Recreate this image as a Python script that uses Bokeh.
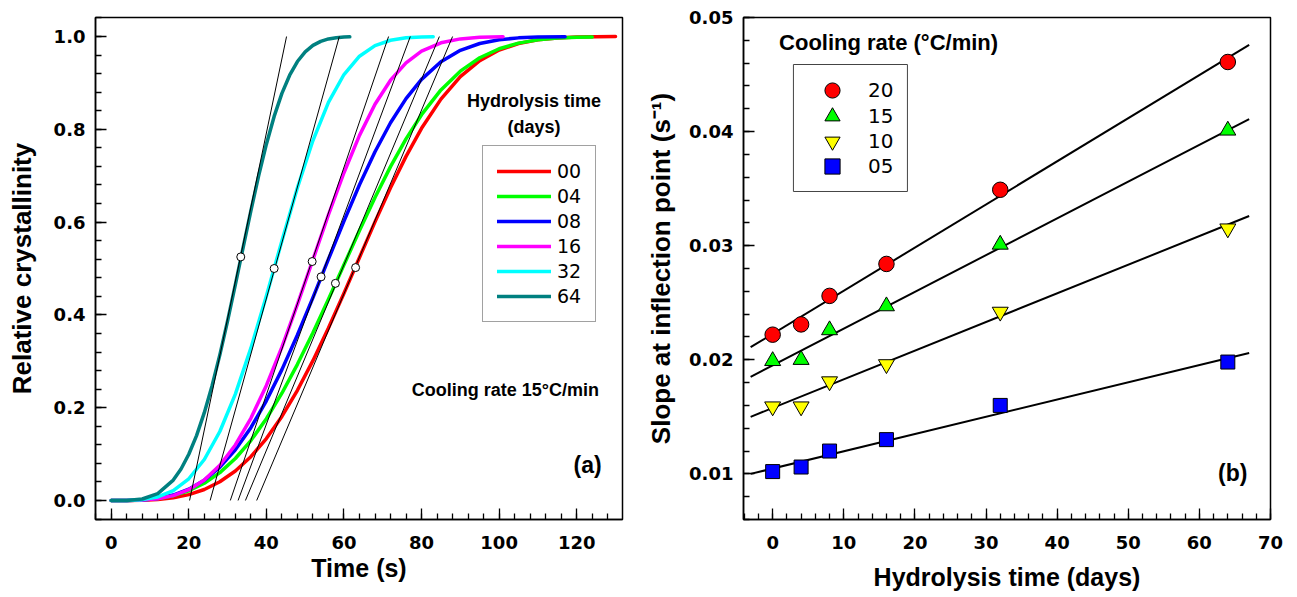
from bokeh.plotting import figure
from bokeh.models import Range1d, FixedTicker, Legend, LegendItem, Label, BoxAnnotation
from bokeh.layouts import row
from bokeh.embed import file_html
from bokeh.resources import INLINE

# ---------------- Panel (a): relative crystallinity vs time ----------------
series_a_labels = ["00", "04", "08", "16", "32", "64"]
series_a_colors = ["#ff0000", "#00ff00", "#0000ff", "#ff00ff", "#00ffff", "#008080"]

time_00 = [0, 4, 8, 12, 16, 20, 24, 28, 32, 36, 40, 44, 48, 52, 56, 60, 64, 68, 72, 76, 80,
           85, 90, 95, 100, 105, 110, 115, 120, 125, 130]
cryst_00 = [0.0, 0.0000, 0.0005, 0.0021, 0.0058, 0.0126, 0.0237, 0.0403, 0.0635, 0.0943, 0.1334,
            0.1812, 0.2375, 0.3014, 0.3718, 0.4467, 0.5238, 0.6004, 0.6739, 0.7417, 0.8021,
            0.8651, 0.9134, 0.9480, 0.9709, 0.9850, 0.9928, 0.9969, 0.9988, 0.9996, 0.9999]

time_04 = [0, 4, 8, 12, 16, 20, 24, 28, 32, 36, 40, 44, 48, 52, 56, 60, 64, 68, 72, 76, 80,
           85, 90, 95, 100, 105, 110, 115, 120, 124]
cryst_04 = [0.0, 0.0001, 0.0011, 0.0041, 0.0103, 0.0209, 0.0371, 0.0600, 0.0905, 0.1292, 0.1762,
            0.2312, 0.2934, 0.3615, 0.4338, 0.5079, 0.5819, 0.6531, 0.7195, 0.7793, 0.8315,
            0.8849, 0.9254, 0.9543, 0.9737, 0.9858, 0.9928, 0.9966, 0.9985, 0.9992]

time_08 = [0, 4, 8, 12, 16, 20, 24, 28, 32, 36, 40, 44, 48, 52, 56, 60, 64, 68, 72, 76, 80,
           85, 90, 95, 100, 105, 110, 117]
cryst_08 = [0.0, 0.0001, 0.0012, 0.0045, 0.0117, 0.0243, 0.0438, 0.0718, 0.1093, 0.1570, 0.2149,
            0.2820, 0.3568, 0.4372, 0.5201, 0.6022, 0.6804, 0.7517, 0.8142, 0.8662, 0.9076,
            0.9455, 0.9702, 0.9850, 0.9931, 0.9971, 0.9989, 0.9997]

time_16 = [0, 4, 8, 12, 16, 20, 24, 28, 32, 36, 40, 44, 48, 52, 56, 60, 64, 68, 72, 76, 80,
           85, 90, 95, 101]
cryst_16 = [0.0, 0.0001, 0.0009, 0.0037, 0.0105, 0.0232, 0.0443, 0.0759, 0.1197, 0.1771, 0.2479,
            0.3306, 0.4225, 0.5191, 0.6158, 0.7064, 0.7870, 0.8539, 0.9059, 0.9433, 0.9684,
            0.9864, 0.9949, 0.9984, 0.9997]

time_32 = [0, 4, 8, 12, 16, 20, 24, 28, 32, 36, 40, 44, 48, 52, 56, 60, 64, 68, 72, 76, 80, 83]
cryst_32 = [0.0, 0.0001, 0.0018, 0.0076, 0.0212, 0.0468, 0.0883, 0.1487, 0.2293, 0.3283, 0.4409,
            0.5594, 0.6740, 0.7758, 0.8581, 0.9181, 0.9575, 0.9803, 0.9920, 0.9972, 0.9991, 0.9997]

time_64 = [0, 4, 8, 12, 16, 18, 20, 22, 24, 26, 28, 30, 32, 34, 36, 38, 40, 42, 44, 46, 48, 50,
           52, 54, 56, 58, 60, 61.5]
cryst_64 = [0.0, 0.0002, 0.0032, 0.0149, 0.0439, 0.0679, 0.0996, 0.1399, 0.1893, 0.2474, 0.3139,
            0.3872, 0.4651, 0.5452, 0.6243, 0.6995, 0.7680, 0.8278, 0.8774, 0.9166, 0.9461,
            0.9670, 0.9809, 0.9896, 0.9948, 0.9975, 0.9989, 0.9993]

# inflection points and tangent lines (tangent runs from X = 0 to X = 1)
inflection_time = [63.0, 57.8, 54.1, 51.8, 42.0, 33.4]
inflection_cryst = [0.502, 0.468, 0.482, 0.515, 0.500, 0.525]
tangent_time_start = [37.5, 34.6, 32.7, 30.7, 25.5, 20.2]
tangent_time_end = [88.0, 84.6, 77.1, 71.5, 58.8, 45.2]
tangent_cryst_start = [0.0, 0.0, 0.0, 0.0, 0.0, 0.0]
tangent_cryst_end = [1.0, 1.0, 1.0, 1.0, 1.0, 1.0]

time_ticks = [0, 20, 40, 60, 80, 100, 120]
time_tick_labels = ["0", "20", "40", "60", "80", "100", "120"]
time_minor_ticks = list(range(-4, 133, 4))
cryst_ticks = [0.0, 0.2, 0.4, 0.6, 0.8, 1.0]
cryst_tick_labels = ["0.0", "0.2", "0.4", "0.6", "0.8", "1.0"]
cryst_minor_ticks = [round(-0.04 + 0.04 * i, 2) for i in range(28)]

# ---------------- Panel (b): slope at inflection point vs hydrolysis time ----------------
hydrolysis_days = [0, 4, 8, 16, 32, 64]
series_b_labels = ["20", "15", "10", "05"]
series_b_colors = ["#ff0000", "#00ff00", "#ffff00", "#0000ff"]
series_b_markers = ["circle", "triangle", "inverted_triangle", "square"]
series_b_sizes = [15.5, 16, 16, 14]
slope_20 = [0.0222, 0.0231, 0.0256, 0.0284, 0.0349, 0.0461]
slope_15 = [0.0199, 0.0200, 0.0226, 0.0247, 0.0301, 0.0401]
slope_10 = [0.0159, 0.0159, 0.0181, 0.0196, 0.0242, 0.0315]
slope_05 = [0.0102, 0.0106, 0.0120, 0.0130, 0.0160, 0.0198]
fit_days = [-3.1, 67.0]
fit_20 = [0.0211, 0.0476]
fit_15 = [0.0185, 0.0411]
fit_10 = [0.0150, 0.0326]
fit_05 = [0.0100, 0.0206]

days_ticks = [0, 10, 20, 30, 40, 50, 60, 70]
days_tick_labels = ["0", "10", "20", "30", "40", "50", "60", "70"]
days_minor_ticks = list(range(-4, 71, 2))
slope_ticks = [0.01, 0.02, 0.03, 0.04, 0.05]
slope_tick_labels = ["0.01", "0.02", "0.03", "0.04", "0.05"]
slope_minor_ticks = [round(0.006 + 0.002 * i, 3) for i in range(23)]

TEXT_FONT = "Liberation Sans"
NUM_FONT = "DejaVu Sans"


def style_axis(ax, ticks, labels, minor, label_standoff, title_standoff, title_size):
    ax.ticker = FixedTicker(ticks=ticks, minor_ticks=minor)
    ax.major_label_overrides = {t: l for t, l in zip(ticks, labels)}
    ax.axis_line_color = "black"
    ax.axis_line_width = 1.5
    ax.major_tick_in = 11
    ax.major_tick_out = 0
    ax.minor_tick_in = 6
    ax.minor_tick_out = 0
    ax.major_tick_line_color = "black"
    ax.minor_tick_line_color = "black"
    ax.major_tick_line_width = 1.3
    ax.minor_tick_line_width = 1.3
    ax.major_label_text_font = NUM_FONT
    ax.major_label_text_font_style = "bold"
    ax.major_label_text_font_size = "18px"
    ax.major_label_text_color = "black"
    ax.major_label_standoff = label_standoff
    ax.axis_label_text_font = TEXT_FONT
    ax.axis_label_text_font_style = "bold"
    ax.axis_label_text_font_size = title_size
    ax.axis_label_text_color = "black"
    ax.axis_label_standoff = title_standoff


def base_figure(xr, yr, border_left, border_right):
    p = figure(frame_width=527, frame_height=502, x_range=xr, y_range=yr,
               min_border_left=border_left, min_border_right=border_right,
               min_border_top=17, min_border_bottom=40,
               output_backend="svg", toolbar_location=None, tools="")
    p.xgrid.visible = False
    p.ygrid.visible = False
    p.outline_line_color = "black"
    p.outline_line_width = 1.5
    p.background_fill_color = "white"
    p.border_fill_color = "white"
    return p


# ---------- figure (a)
pa = base_figure(Range1d(-4.05, 131.8), Range1d(-0.041, 1.041), 95, 10)
pa.xaxis.axis_label = "Time (s)"
pa.yaxis.axis_label = "Relative crystallinity"
style_axis(pa.xaxis[0], time_ticks, time_tick_labels, time_minor_ticks, 16, 2, "25px")
style_axis(pa.yaxis[0], cryst_ticks, cryst_tick_labels, cryst_minor_ticks, 10, 14, "26px")

curve_times = [time_00, time_04, time_08, time_16, time_32, time_64]
curve_vals = [cryst_00, cryst_04, cryst_08, cryst_16, cryst_32, cryst_64]
items_a = []
for lab, col, tt, vv in zip(series_a_labels, series_a_colors, curve_times, curve_vals):
    r = pa.line(tt, vv, line_color=col, line_width=3.5, line_join="round", line_cap="round")
    items_a.append(LegendItem(label=lab, renderers=[r]))

pa.segment(x0=tangent_time_start, y0=tangent_cryst_start, x1=tangent_time_end, y1=tangent_cryst_end,
           line_color="black", line_width=1)
pa.scatter(inflection_time, inflection_cryst, marker="circle", size=8,
           fill_color="white", line_color="black", line_width=1)

leg_a = Legend(items=items_a, location=(387, 197), padding=14, spacing=3, margin=0,
               glyph_width=54, glyph_height=22, label_height=22, label_standoff=6,
               label_text_font=NUM_FONT, label_text_font_size="19px", label_text_color="black",
               border_line_color="#444444", border_line_width=1,
               background_fill_color="white", background_fill_alpha=1.0)
pa.add_layout(leg_a)

for txt, x, y, size in [("Hydrolysis time", 109.0, 0.860, "18px"),
                        ("(days)", 109.0, 0.806, "18px"),
                        ("Cooling rate 15°C/min", 101.6, 0.239, "18px"),
                        ("(a)", 122.8, 0.077, "23px")]:
    pa.add_layout(Label(x=x, y=y, text=txt, text_font=TEXT_FONT, text_font_style="bold",
                        text_font_size=size, text_align="center", text_baseline="middle",
                        text_color="black"))

# ---------- figure (b)
pb = base_figure(Range1d(-4.1, 70.0), Range1d(0.006, 0.05), 111, 14)
pb.xaxis.axis_label = "Hydrolysis time (days)"
pb.yaxis.axis_label = "Slope at inflection point (s\u207b\u00b9)"
style_axis(pb.xaxis[0], days_ticks, days_tick_labels, days_minor_ticks, 16, 11, "25px")
style_axis(pb.yaxis[0], slope_ticks, slope_tick_labels, slope_minor_ticks, 10, 10, "26px")

for fy in [fit_20, fit_15, fit_10, fit_05]:
    pb.line(fit_days, fy, line_color="black", line_width=2)

renderers_b = []
for col, mk, sz, vals in zip(series_b_colors, series_b_markers, series_b_sizes,
                             [slope_20, slope_15, slope_10, slope_05]):
    r = pb.scatter(hydrolysis_days, vals, marker=mk, size=sz, fill_color=col,
                   line_color="black", line_width=1)
    renderers_b.append(r)

# legend frame of panel (b), then one borderless legend row per cooling rate so that the
# legend symbols keep the size of the plotted markers while rows stay closely spaced
pb.add_layout(BoxAnnotation(left=2.92, right=18.95, bottom=0.03475, top=0.04588,
                            fill_color="white", fill_alpha=1.0,
                            line_color="#444444", line_width=1, line_alpha=1.0))
legend_b_row_bottoms = [410, 384, 359, 334]
for lab, r, yb in zip(series_b_labels, renderers_b, legend_b_row_bottoms):
    pb.add_layout(Legend(items=[LegendItem(label=lab, renderers=[r])], location=(70, yb),
                         padding=0, spacing=0, margin=0,
                         glyph_width=38, glyph_height=38, label_standoff=17,
                         label_text_font=NUM_FONT, label_text_font_size="20px",
                         label_text_color="black",
                         border_line_color=None, background_fill_alpha=0.0))

for txt, x, y, size in [("Cooling rate (°C/min)", 16.3, 0.0478, "22px"),
                        ("(b)", 64.7, 0.0101, "23px")]:
    pb.add_layout(Label(x=x, y=y, text=txt, text_font=TEXT_FONT, text_font_style="bold",
                        text_font_size=size, text_align="center", text_baseline="middle",
                        text_color="black"))

layout = row(pa, pb)
open("out.html", "w").write(file_html(layout, INLINE))
